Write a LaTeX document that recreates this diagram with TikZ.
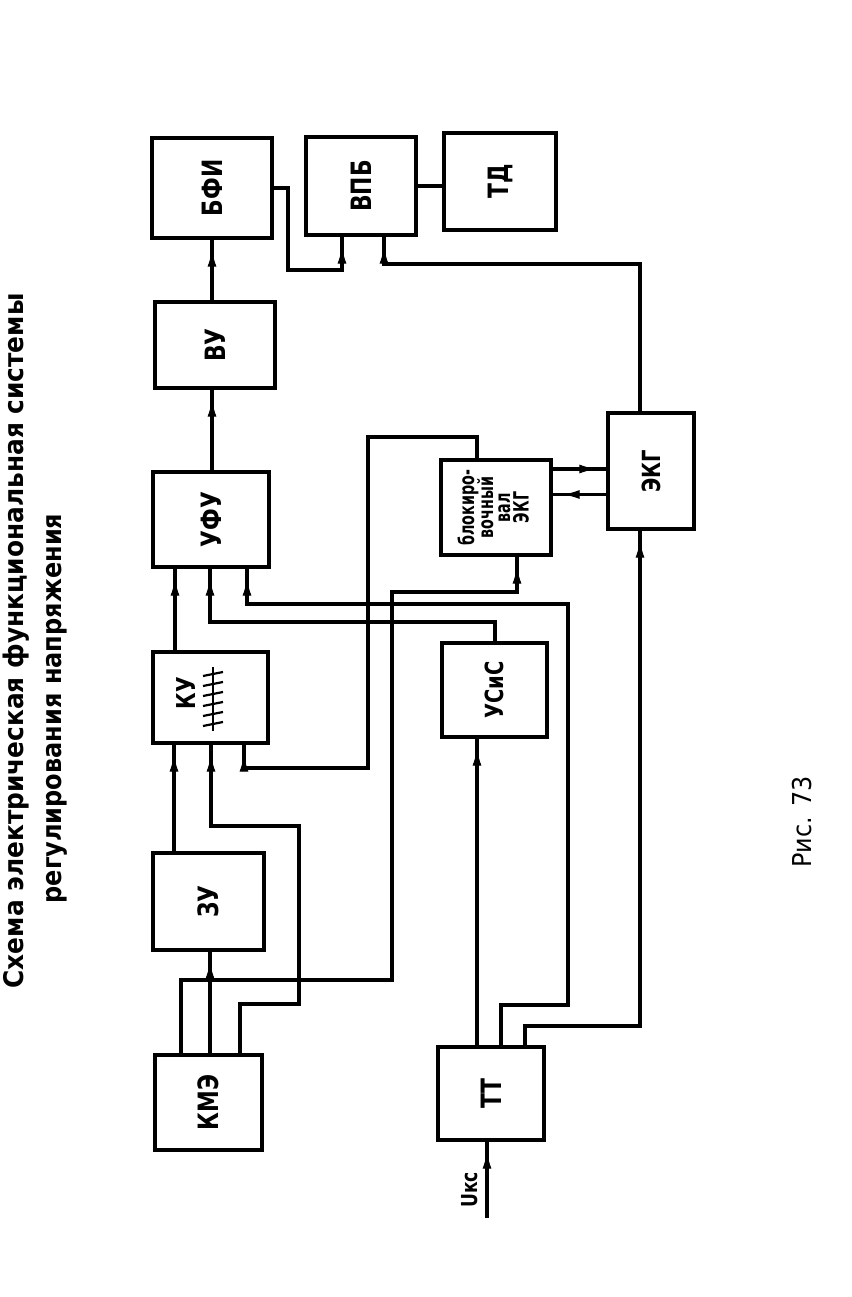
\documentclass[tikz,border=0pt]{standalone}
\usepackage{fontspec}
\setmainfont{DejaVu Sans}
\newfontfamily\lblf[FakeStretch=0.78]{DejaVu Sans}
\newfontfamily\ttlf[FakeStretch=0.92]{DejaVu Sans}
\newfontfamily\ttlg[FakeStretch=0.89]{DejaVu Sans}
\newfontfamily\blkf[FakeStretch=0.68]{DejaVu Sans}
\usetikzlibrary{arrows.meta,decorations.markings}
\begin{document}
\begin{tikzpicture}[x=1pt,y=-1pt, line width=3.3pt, line join=miter,
  box/.style={draw, rectangle, inner sep=0pt, font=\lblf\bfseries\fontsize{28}{30}\selectfont},
  arr/.style={postaction={decorate, decoration={markings,
      mark=at position -11pt with {\arrow[line width=1pt]{Latex[length=16pt,width=9pt]}}}}},
  rtxt/.style={rotate=90, inner sep=0pt}
]
\fill[white] (0,0) rectangle (851,1297);
\useasboundingbox (0,0) rectangle (851,1297);

% title
\node[rtxt, anchor=base west, font=\ttlf\bfseries\fontsize{27}{30}\selectfont] (t1) at (23,990) {Схема электрическая функциональная системы};
\node[rtxt, anchor=base west, font=\ttlg\bfseries\fontsize{27}{30}\selectfont] (t2) at (61,905) {регулирования напряжения};

% boxes
\node[box, minimum width=107pt, minimum height=95pt] (kme) at (208.5,1102.5) {\rotatebox{90}{КМЭ}};
\node[box, minimum width=111pt, minimum height=97pt] (zu) at (208.5,901.5) {\rotatebox{90}{ЗУ}};
\node[box, minimum width=115pt, minimum height=91pt] (ku) at (210.5,697.5) {};
\node[box, minimum width=116pt, minimum height=95pt] (ufu) at (211,519.5) {\rotatebox{90}{УФУ}};
\node[box, minimum width=120pt, minimum height=86pt] (vu) at (215,345) {\rotatebox{90}{ВУ}};
\node[box, minimum width=120pt, minimum height=100pt] (bfi) at (212,188) {\rotatebox{90}{БФИ}};
\node[box, minimum width=110pt, minimum height=98pt] (vpb) at (361,186) {\rotatebox{90}{ВПБ}};
\node[box, minimum width=112pt, minimum height=97pt] (td) at (500,181.5) {\rotatebox{90}{ТД}};
\node[box, minimum width=110pt, minimum height=95pt, font=\blkf\bfseries\fontsize{21}{20}\selectfont] (blk) at (496,507.5)
  {\rotatebox{90}{\begin{tabular}{@{}c@{}}блокиро-\\[-3pt]вочный\\[-3pt]вал\\[-3pt]ЭКГ\end{tabular}}};
\node[box, minimum width=86pt, minimum height=116pt, font=\lblf\bfseries\fontsize{25}{27}\selectfont] (ekg) at (651,471) {\rotatebox{90}{ЭКГ}};
\node[box, minimum width=105pt, minimum height=94pt, font=\lblf\bfseries\fontsize{25}{27}\selectfont] (usis) at (494.5,690) {\rotatebox{90}{УСиС}};
\node[box, minimum width=106pt, minimum height=93pt] (tt) at (491,1093.5) {\rotatebox{90}{ТТ}};

% КУ label with struck-out text
\node[rtxt, font=\lblf\bfseries\fontsize{26}{28}\selectfont] (kut) at (186,693) {КУ};
\draw[line width=2.4pt] (213,667) -- (213,731);
\foreach \yy in {674,684,694,704,714,724} \draw[line width=2.2pt] (203,\yy+2) -- (223,\yy-2);

% main chain
\draw[arr] ([xshift=1.5pt]kme.north) -- ([xshift=1.5pt]zu.south);
\draw[arr] ([xshift=-34.5pt]zu.north) -- ([xshift=-36.5pt]ku.south);
\draw[arr] ([xshift=-35.5pt]ku.north) -- ([xshift=-36pt]ufu.south);
\draw[arr] ([xshift=1pt]ufu.north) -- ([xshift=-3pt]vu.south);
\draw[arr] ([xshift=-3pt]vu.north) -- (bfi.south);

% KME -> KU
\draw[arr] ([xshift=31.5pt]kme.north) -- (240,1004) -- (299,1004) -- (299,826) -- (211,826) -- ([xshift=0.5pt]ku.south);
% KME -> block
\draw[arr] ([xshift=-27.5pt]kme.north) -- (181,980) -- (392,980) -- (392,592) -- (517,592) -- ([xshift=21pt]blk.south);
% block -> KU
\draw[arr] ([xshift=-19pt]blk.north) -- (477,437) -- (368,437) -- (368,768) -- (244,768) -- ([xshift=33.5pt]ku.south);
% USiS -> UFU
\draw[arr] ([xshift=0.5pt]usis.north) -- (495,622) -- (210,622) -- ([xshift=-1pt]ufu.south);
% TT -> UFU
\draw[arr] ([xshift=10pt]tt.north) -- (501,1005) -- (568,1005) -- (568,604) -- (247,604) -- ([xshift=36pt]ufu.south);
% TT -> USiS
\draw[arr] ([xshift=-14pt]tt.north) -- ([xshift=-17.5pt]usis.south);
% TT -> EKG
\draw[arr] ([xshift=34pt]tt.north) -- (525,1026) -- (640,1026) -- ([xshift=-11pt]ekg.south);
% BFI -> VPB
\draw[arr] (bfi.east) -- (288,188) -- (288,270) -- (342,270) -- ([xshift=-19pt]vpb.south);
% EKG -> VPB
\draw[arr] ([xshift=-11pt]ekg.north) -- (640,264) -- (384,264) -- ([xshift=23pt]vpb.south);
% VPB - TD
\draw (vpb.east) -- (vpb.east -| td.west);
% block <-> EKG
\draw[arr] ([yshift=38.5pt]blk.east) coordinate (b1) -- (b1 -| ekg.west);
\draw[arr] ([yshift=-23.5pt]ekg.west) coordinate (b2) -- (b2 -| blk.east);

% input
\coordinate (uin) at (487,1218);
\draw[arr] (uin) -- ([xshift=-4pt]tt.south);
\node[rtxt, font=\lblf\bfseries\fontsize{22}{24}\selectfont] (ul) at (470,1190) {Uкс};

% caption
\node[rtxt, font=\ttlf\fontsize{26}{28}\selectfont] (fig) at (802,822) {Рис. 73};
\end{tikzpicture}
\end{document}
